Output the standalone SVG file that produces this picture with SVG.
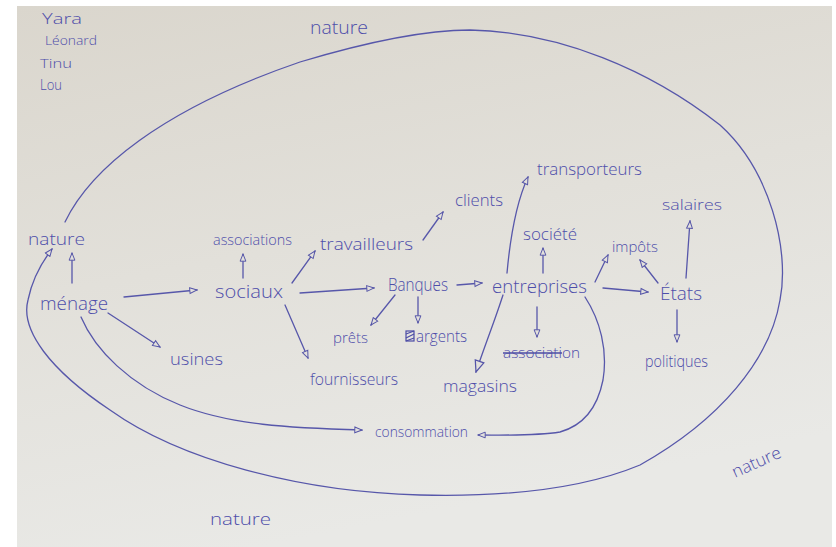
<svg xmlns="http://www.w3.org/2000/svg" width="836" height="547" viewBox="0 0 836 547">
<defs>
<linearGradient id="paper" x1="0" y1="0" x2="0.3" y2="1">
<stop offset="0" stop-color="#dad6cd"/>
<stop offset="0.5" stop-color="#e2e0da"/>
<stop offset="1" stop-color="#e9e9e6"/>
</linearGradient>
<marker id="ah" viewBox="0 0 10 8" refX="9" refY="4" markerWidth="9" markerHeight="8" markerUnits="userSpaceOnUse" orient="auto">
<path d="M1,0.8 L9,4 L1,7.2 Z" fill="#e3e1dc" stroke="#5555a8" stroke-width="1.1"/>
</marker>
<marker id="ahL" viewBox="0 0 10 8" refX="9" refY="4" markerWidth="14" markerHeight="12" markerUnits="userSpaceOnUse" orient="auto">
<path d="M1,0.8 L9,4 L1,7.2 Z" fill="#e3e1dc" stroke="#5555a8" stroke-width="0.9"/>
</marker>
</defs>
<style>
.t{font-family:"Open Sans","Liberation Sans","DejaVu Sans",sans-serif;font-weight:300;fill:#4e4eaa;}
.c{fill:none;stroke:#5757aa;stroke-width:1.3;stroke-linecap:round;}
.a{marker-end:url(#ah);}
</style>
<rect x="0" y="0" width="836" height="547" fill="#ffffff"/>
<rect x="17" y="6" width="815" height="541" fill="url(#paper)"/>

<g id="connectors">
<path id="outer-loop" class="c a" d="M65,222 C90,170 160,110 300,62 C380,38 430,30 470,30 C560,32 650,70 720,125 C770,170 790,250 780,300 C770,360 720,420 640,465 C580,490 500,497 420,495 C300,492 180,460 110,410 C50,370 20,330 28,300 C32,280 42,262 52,249"/>
<path class="c a" d="M72,283 L72,253"/>
<path class="c a" d="M124,297 L197,290"/>
<path class="c a" d="M108,313 L160,347"/>
<path class="c a" d="M81,317 C95,350 130,385 180,405 C230,425 290,428 362,430"/>
<path class="c a" d="M243,278 L243,254"/>
<path class="c a" d="M292,283 L315,251"/>
<path class="c a" d="M300,293 L374,288"/>
<path class="c a" d="M285,305 L308,358"/>
<path class="c a" d="M395,295 L371,325"/>
<path class="c a" d="M418,297 L418,323"/>
<path class="c a" d="M457,285 L482,283"/>
<path class="c" style="marker-end:url(#ahL)" d="M503,295 C495,320 485,345 476,372"/>
<path class="c a" d="M537,307 L537,337"/>
<path class="c a" d="M585,297 C600,320 608,350 603,380 C598,405 585,425 560,432 C535,436 505,435 478,435"/>
<path class="c a" d="M507,273 C510,240 515,205 528,177"/>
<path class="c a" d="M543,273 L543,248"/>
<path class="c a" d="M595,282 L608,255"/>
<path class="c a" d="M603,288 L648,292"/>
<path class="c a" d="M658,283 L640,260"/>
<path class="c a" d="M686,278 L690,221"/>
<path class="c a" d="M677,310 L677,342"/>
<path class="c a" d="M423,240 L443,212"/>
</g>

<g id="authors">
<text class="t" x="42" y="24" font-size="14" textLength="40" lengthAdjust="spacingAndGlyphs">Yara</text>
<text class="t" x="45" y="45" font-size="13" textLength="52" lengthAdjust="spacingAndGlyphs">Léonard</text>
<text class="t" x="40" y="68" font-size="13" textLength="32" lengthAdjust="spacingAndGlyphs">Tinu</text>
<text class="t" x="40" y="90" font-size="14" textLength="22" lengthAdjust="spacingAndGlyphs">Lou</text>
</g>
<g id="nature-top"><text class="t" x="310" y="34" font-size="19" textLength="58" lengthAdjust="spacingAndGlyphs">nature</text></g>
<g id="nature-left"><text class="t" x="28" y="245" font-size="17" textLength="57" lengthAdjust="spacingAndGlyphs">nature</text></g>
<g id="nature-right"><text class="t" x="0" y="0" font-size="17" textLength="52" lengthAdjust="spacingAndGlyphs" transform="translate(735,478) rotate(-24)">nature</text></g>
<g id="nature-bottom"><text class="t" x="210" y="525" font-size="17" textLength="61" lengthAdjust="spacingAndGlyphs">nature</text></g>
<g id="menage"><text class="t" x="40" y="310" font-size="19" textLength="68" lengthAdjust="spacingAndGlyphs">ménage</text></g>
<g id="sociaux"><text class="t" x="215" y="298" font-size="19" textLength="68" lengthAdjust="spacingAndGlyphs">sociaux</text></g>
<g id="associations"><text class="t" x="213" y="245" font-size="15" textLength="79" lengthAdjust="spacingAndGlyphs">associations</text></g>
<g id="travailleurs"><text class="t" x="320" y="250" font-size="16" textLength="93" lengthAdjust="spacingAndGlyphs">travailleurs</text></g>
<g id="usines"><text class="t" x="170" y="365" font-size="17" textLength="53" lengthAdjust="spacingAndGlyphs">usines</text></g>
<g id="fournisseurs"><text class="t" x="310" y="385" font-size="17" textLength="88" lengthAdjust="spacingAndGlyphs">fournisseurs</text></g>
<g id="prets"><text class="t" x="333" y="343" font-size="15" textLength="35" lengthAdjust="spacingAndGlyphs">prêts</text></g>
<g id="banques"><text class="t" x="388" y="291" font-size="18" textLength="60" lengthAdjust="spacingAndGlyphs">Banques</text></g>
<g id="argents">
<rect x="406" y="331" width="8" height="10" fill="none" stroke="#4c4ca6" stroke-width="1.2"/>
<path d="M406,334 L414,331 M406,338 L414,334 M406,341 L414,338" stroke="#4c4ca6" stroke-width="1.2"/>
<text class="t" x="416" y="342" font-size="16" textLength="51" lengthAdjust="spacingAndGlyphs">argents</text>
</g>
<g id="entreprises"><text class="t" x="492" y="293" font-size="18" textLength="95" lengthAdjust="spacingAndGlyphs">entreprises</text></g>
<g id="association">
<text class="t" x="503" y="358" font-size="15" textLength="77" lengthAdjust="spacingAndGlyphs">association</text>
<path d="M503,353 L562,353" stroke="#4c4ca6" stroke-width="1.4"/>
</g>
<g id="magasins"><text class="t" x="443" y="392" font-size="16" textLength="74" lengthAdjust="spacingAndGlyphs">magasins</text></g>
<g id="consommation"><text class="t" x="375" y="437" font-size="15" textLength="93" lengthAdjust="spacingAndGlyphs">consommation</text></g>
<g id="clients"><text class="t" x="455" y="206" font-size="16" textLength="48" lengthAdjust="spacingAndGlyphs">clients</text></g>
<g id="transporteurs"><text class="t" x="537" y="175" font-size="16" textLength="105" lengthAdjust="spacingAndGlyphs">transporteurs</text></g>
<g id="societe"><text class="t" x="523" y="240" font-size="16" textLength="54" lengthAdjust="spacingAndGlyphs">société</text></g>
<g id="impots"><text class="t" x="612" y="252" font-size="15" textLength="46" lengthAdjust="spacingAndGlyphs">impôts</text></g>
<g id="salaires"><text class="t" x="662" y="210" font-size="15" textLength="60" lengthAdjust="spacingAndGlyphs">salaires</text></g>
<g id="etats"><text class="t" x="660" y="300" font-size="18" textLength="42" lengthAdjust="spacingAndGlyphs">États</text></g>
<g id="politiques"><text class="t" x="645" y="367" font-size="16" textLength="63" lengthAdjust="spacingAndGlyphs">politiques</text></g>
</svg>
